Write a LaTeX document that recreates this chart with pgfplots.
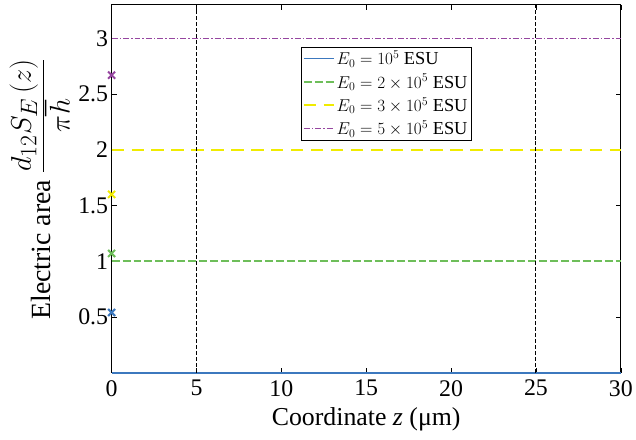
\documentclass[border=0pt]{standalone}
\usepackage{pgfplots}
\pgfplotsset{compat=1.18}
\usepackage{fontspec}
\setmainfont{Liberation Serif}
\definecolor{cblue}{RGB}{60,120,190}
\definecolor{cgreen}{RGB}{110,190,90}
\definecolor{cyellow}{RGB}{240,235,0}
\definecolor{cpurple}{RGB}{150,70,160}
\pgfplotsset{
  longline/.style={legend image code/.code={\draw[mark repeat=2,mark phase=2,##1] plot coordinates {(0bp,0bp) (15bp,0bp) (30bp,0bp)};}},
}
\begin{document}
\begin{tikzpicture}
\begin{axis}[
  scale only axis,
  width=511bp, height=369bp,
  xmin=0, xmax=30, ymin=0, ymax=3.3,
  xtick={0,5,...,30},
  ytick={0.5,1,1.5,2,2.5,3},
  tick align=inside,
  tick style={black, thin},
  major tick length=5bp,
  axis line style={black, line width=1pt},
  /pgf/number format/assume math mode=true,
  ticklabel style={font=\fontsize{24}{26}\selectfont},
  xticklabel style={yshift=-4bp},
  xlabel={Coordinate \textit{z} (μm)},
  ylabel={Electric area \scalebox{1.15}{$\displaystyle\frac{d_{12}S_E\,(z)}{\pi\hbar}$}},
  xlabel style={font=\fontsize{26}{28}\selectfont, yshift=-5bp},
  ylabel style={font=\fontsize{28}{30}\selectfont, yshift=2bp},
  legend style={at={(0.371,0.887)}, anchor=north west, draw=black, line width=0.6pt,
    font=\fontsize{18.5}{20}\selectfont, row sep=4bp, inner sep=2pt},
  legend cell align=left,
  clip=false,
]
\addplot[color=cblue, line width=2bp, longline] coordinates {(0,0) (30,0)};
\addlegendentry{$E_0 = 10^5$ ESU}
\addplot[color=cgreen, line width=1.8bp, dash pattern=on 8bp off 3bp, longline] coordinates {(0,1) (30,1)};
\addlegendentry{$E_0 = 2\times 10^5$ ESU}
\addplot[color=cyellow, line width=1.8bp, dash pattern=on 12.5bp off 7.5bp, longline] coordinates {(0,2) (30,2)};
\addlegendentry{$E_0 = 3\times 10^5$ ESU}
\addplot[color=cpurple, line width=1.5bp, dash pattern=on 6bp off 2bp on 1.5bp off 2bp, longline] coordinates {(0,3) (30,3)};
\addlegendentry{$E_0 = 5\times 10^5$ ESU}
\addplot[black, line width=1bp, dash pattern=on 4bp off 2bp, forget plot] coordinates {(5,0) (5,3.3)};
\addplot[black, line width=1bp, dash pattern=on 4bp off 2bp, forget plot] coordinates {(25,0) (25,3.3)};
\addplot[only marks, mark=x, mark size=5bp, cblue, line width=2bp, forget plot] coordinates {(0,0.54)};
\addplot[only marks, mark=x, mark size=5bp, cgreen, line width=2bp, forget plot] coordinates {(0,1.07)};
\addplot[only marks, mark=x, mark size=5bp, cyellow, line width=2bp, forget plot] coordinates {(0,1.6)};
\addplot[only marks, mark=x, mark size=5bp, cpurple, line width=2bp, forget plot] coordinates {(0,2.67)};
\end{axis}
\path ([shift={(-112bp,-67bp)}]current axis.south west) rectangle ([shift={(13bp,5bp)}]current axis.north east);
\end{tikzpicture}
\end{document}
